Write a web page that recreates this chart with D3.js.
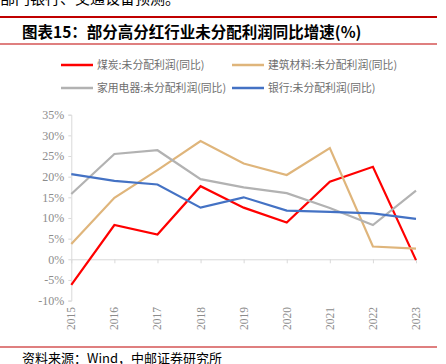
<!DOCTYPE html>
<html><head><meta charset="utf-8">
<script src="https://cdn.jsdelivr.net/npm/d3@7/dist/d3.min.js"></script>
<style>body{margin:0;background:#fff}svg{display:block}</style>
</head><body><svg id="c" width="446" height="364"></svg>
<script>
const years = ["2015","2016","2017","2018","2019","2020","2021","2022","2023"];
const coal = [-6.2, 8.3, 6.0, 17.7, 12.5, 8.9, 18.8, 22.4, -0.2];
const building = [3.7, 14.9, 21.6, 28.6, 23.2, 20.4, 26.9, 3.1, 2.6];
const appliance = [15.8, 25.5, 26.4, 19.4, 17.4, 16.0, 12.4, 8.3, 16.6];
const bank = [20.6, 19.0, 18.1, 12.5, 15.0, 11.8, 11.5, 11.1, 9.8];
const yTicks = [-10, -5, 0, 5, 10, 15, 20, 25, 30, 35];
const seriesNames = ["煤炭:未分配利润(同比)", "建筑材料:未分配利润(同比)", "家用电器:未分配利润(同比)", "银行:未分配利润(同比)"];
const colors = ["#ff0000", "#dfb57b", "#b2b2b2", "#4472c4"];
const seriesData = [coal, building, appliance, bank];

const svg = d3.select("#c");
const cjk = "'Noto Sans CJK SC', sans-serif";

// header
svg.append("text").attr("x", 0).attr("y", 4).attr("font-family", cjk).attr("font-size", 15).attr("fill", "#000").text("部门银行、交通设备预测。");
svg.append("rect").attr("x", 0).attr("y", 16).attr("width", 437).attr("height", 2).attr("fill", "#c00000");
svg.append("text").attr("x", 22).attr("y", 37.5).attr("font-family", cjk).attr("font-weight", "bold").attr("font-size", 15.5).attr("fill", "#000").text("图表15：部分高分红行业未分配利润同比增速(%)");
svg.append("rect").attr("x", 0).attr("y", 43.5).attr("width", 437).attr("height", 1).attr("fill", "#c00000");

// scales
const x = d3.scalePoint().domain(years).range([71.3, 416]);
const y = d3.scaleLinear().domain([-10, 35]).range([300.6, 114.7]);

// axes
const yAxis = svg.append("g").attr("transform", "translate(71.3,0)")
  .call(d3.axisLeft(y).tickValues(yTicks).tickSize(3).tickFormat(d => d + "%"));
yAxis.select(".domain").attr("stroke", "#d9d9d9");
yAxis.selectAll(".tick line").attr("stroke", "#d9d9d9");
yAxis.selectAll("text").attr("font-family", "'Liberation Serif', serif").attr("font-size", 12).attr("fill", "#8c8c8c").attr("x", -7);

const xAxis = svg.append("g").attr("transform", `translate(0,${y(0)})`)
  .call(d3.axisBottom(x).tickSize(4).tickSizeOuter(0).tickFormat(() => ""));
xAxis.select(".domain").attr("stroke", "#d9d9d9");
xAxis.selectAll(".tick line").attr("stroke", "#d9d9d9");

// x labels rotated, below plot
svg.append("g").selectAll("text").data(years).join("text")
  .attr("transform", d => `translate(${x(d) + 4},330) rotate(-90)`)
  .attr("font-family", "'Liberation Serif', serif").attr("font-size", 11.5).attr("fill", "#8c8c8c")
  .text(d => d);

// lines
const line = d3.line().x((d, i) => x(years[i])).y(d => y(d));
seriesData.forEach((s, k) => {
  svg.append("path").datum(s).attr("d", line).attr("fill", "none")
    .attr("stroke", colors[k]).attr("stroke-width", 2.2).attr("stroke-linejoin", "miter");
});

// legend
const legPos = [[61, 65], [232, 65], [61, 88], [232, 88]];
seriesNames.forEach((n, k) => {
  const [lx, ly] = legPos[k];
  svg.append("line").attr("x1", lx).attr("x2", lx + 32).attr("y1", ly).attr("y2", ly)
    .attr("stroke", colors[k]).attr("stroke-width", 2.5);
  svg.append("text").attr("x", lx + 36).attr("y", ly + 4).attr("font-family", cjk)
    .attr("font-size", 10.8).attr("fill", "#6e6e6e").text(n);
});

// footer
svg.append("rect").attr("x", 0).attr("y", 346.5).attr("width", 437).attr("height", 1).attr("fill", "#c00000");
svg.append("text").attr("x", 22).attr("y", 363).attr("font-family", cjk).attr("font-size", 13).attr("fill", "#000").text("资料来源：Wind，中邮证券研究所");
</script></body></html>
